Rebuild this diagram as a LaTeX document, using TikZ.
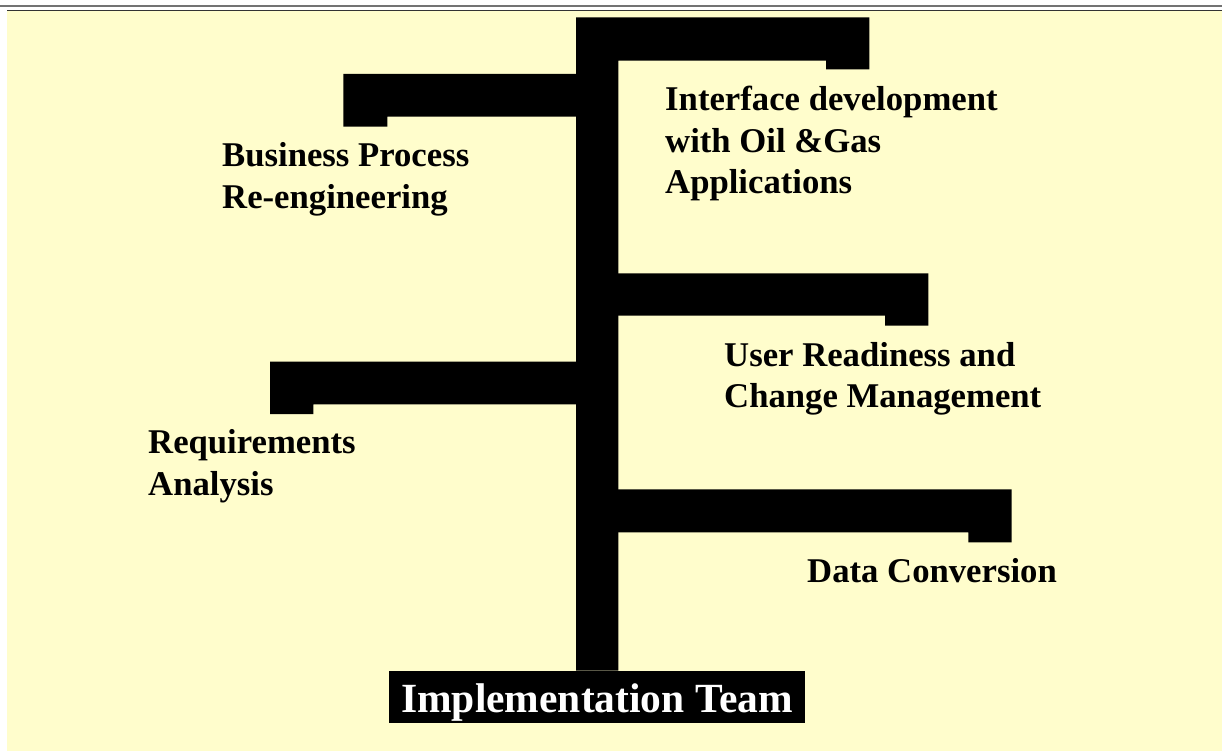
\documentclass[tikz,border=0pt]{standalone}
\usepackage{fontspec}
\setmainfont{Liberation Serif}
\definecolor{bg}{HTML}{FFFDCC}
\begin{document}
\begin{tikzpicture}[x=1pt,y=-1pt,
  lbl/.style={anchor=base west, inner sep=0pt, align=left, font=\fontsize{34.7pt}{41.5pt}\selectfont\bfseries},
  bar/.style={fill=black}]
\useasboundingbox (0,0) rectangle (1222,751);
\fill[white] (0,0) rectangle (1222,751);
\fill[bg] (7,11) rectangle (1222,751);
\fill[black!55] (0,4.8) rectangle (1222,7.5);
\fill[black!80] (7,9.8) rectangle (1222,11.2);
% trunk and top branch
\fill[bar] (576,17.3) -- (869.3,17.3) -- (869.3,69.3) -- (826,69.3) -- (826,60.7) -- (618.3,60.7) -- (618.3,670.7) -- (576,670.7) -- cycle;
% Business Process branch
\fill[bar] (577,74) -- (343.3,74) -- (343.3,126.7) -- (387.3,126.7) -- (387.3,116.7) -- (577,116.7) -- cycle;
% User Readiness branch
\fill[bar] (617,273.3) -- (928.3,273.3) -- (928.3,325.7) -- (885,325.7) -- (885,315.7) -- (617,315.7) -- cycle;
% Requirements branch
\fill[bar] (577,361.7) -- (270,361.7) -- (270,414) -- (313.3,414) -- (313.3,404.3) -- (577,404.3) -- cycle;
% Data Conversion branch
\fill[bar] (617,489.3) -- (1011.7,489.3) -- (1011.7,542.3) -- (968.3,542.3) -- (968.3,532.3) -- (617,532.3) -- cycle;
% labels (base anchor = baseline of the last line)
\node[lbl] (bpr) at (222,208.5) {Business Process\\Re-engineering};
\node[lbl] (intf) at (665,194) {Interface development\\with Oil \&Gas\\Applications};
\node[lbl] (urc) at (724,407.5) {User Readiness and\\Change Management};
\node[lbl] (req) at (148,495) {Requirements\\Analysis};
\node[lbl] (dc) at (807,582) {Data Conversion};
\node[fill=black, text=white, inner sep=0pt, minimum width=416pt, text height=42pt, text depth=10pt,
  anchor=north, font=\fontsize{41.5pt}{48pt}\selectfont\bfseries] (team) at (597,670.7) {Implementation Team};
\end{tikzpicture}
\end{document}
